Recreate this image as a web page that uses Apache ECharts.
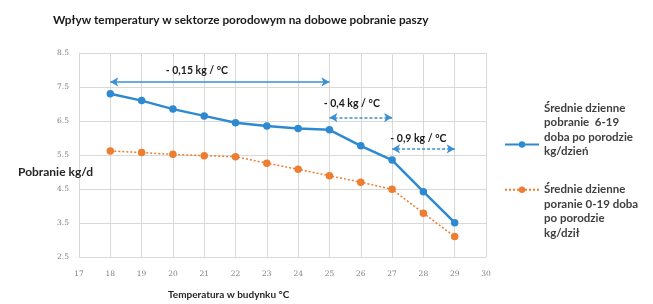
<!DOCTYPE html>
<html>
<head>
<meta charset="utf-8">
<script src="https://cdn.jsdelivr.net/npm/echarts@6/dist/echarts.min.js"></script>
<style>
  html, body { margin: 0; padding: 0; background: #fff; }
  #chart { width: 653px; height: 304px; }
</style>
</head>
<body>
<div id="chart"></div>
<script>
// temperatura (°C) i pobranie paszy (kg/d)
const temps = [18, 19, 20, 21, 22, 23, 24, 25, 26, 27, 28, 29];
const blueValues = [7.3, 7.1, 6.85, 6.65, 6.45, 6.35, 6.28, 6.24, 5.77, 5.35, 4.42, 3.51];
const orangeValues = [5.62, 5.57, 5.52, 5.48, 5.45, 5.26, 5.08, 4.89, 4.7, 4.49, 3.79, 3.1];
const seriesNames = [
    'Średnie dzienne\npobranie  6-19\ndoba po porodzie\nkg/dzień',
    'Średnie dzienne\nporanie 0-19 doba\npo porodzie\nkg/dził'
];
// strzałki z opisem spadku
const slopeLabels = ['- 0,15 kg / °C', '- 0,4 kg / °C', '- 0,9 kg / °C'];
const slopeRanges = [[18, 25], [25, 27], [27, 29]];
const slopeLevels = [7.65, 6.6, 5.68];

const FONT = 'Lato';
const chart = echarts.init(document.getElementById('chart'));

const pairs = (xs, ys) => xs.map((x, i) => [x, ys[i]]);

const labelOffsets = [[-23, -1], [-9, -3], [-5, 0]];
const arrowData = slopeRanges.map((r, i) => [
    {
        coord: [r[0], slopeLevels[i]],
        lineStyle: { type: i === 0 ? 'solid' : [3, 2] },
        label: { formatter: slopeLabels[i], offset: labelOffsets[i] }
    },
    { coord: [r[1], slopeLevels[i]] }
]);

const legendText = {
    fontFamily: FONT, fontSize: 11.5, fontWeight: 'bold', color: '#404040',
    lineHeight: 14.5
};

const option = {
    animation: false,
    title: [
        {
            text: 'Wpływ temperatury w sektorze porodowym na dobowe pobranie paszy',
            left: 48, top: 9,
            textStyle: { fontFamily: FONT, fontSize: 11.8, fontWeight: 'bold', color: '#1a1a1a' }
        },
        {
            text: 'Pobranie kg/d',
            left: 13, top: 161,
            textStyle: { fontFamily: FONT, fontSize: 12, fontWeight: 'bold', color: '#262626' }
        },
        {
            text: 'Temperatura w budynku °C',
            left: 163, top: 285,
            textStyle: { fontFamily: FONT, fontSize: 10, fontWeight: 'bold', color: '#262626' }
        }
    ],
    grid: { left: 79, right: 167, top: 53, bottom: 47 },
    xAxis: {
        type: 'value',
        min: 17, max: 30, interval: 1,
        axisLine: { show: true, lineStyle: { color: '#d9d9d9' } },
        axisTick: { show: false },
        axisLabel: { color: '#808080', fontFamily: 'DejaVu Serif', fontSize: 7.5, margin: 13 },
        splitLine: { show: true, lineStyle: { color: '#d9d9d9' } }
    },
    yAxis: {
        type: 'value',
        min: 2.5, max: 8.5, interval: 1,
        axisLine: { show: true, lineStyle: { color: '#d9d9d9' } },
        axisTick: { show: false },
        axisLabel: {
            color: '#808080', fontFamily: 'DejaVu Serif', fontSize: 7.5, margin: 10,
            formatter: v => v.toFixed(1)
        },
        splitLine: { show: true, lineStyle: { color: '#d9d9d9' } }
    },
    legend: [
        {
            data: [seriesNames[0]],
            left: 499, top: 96,
            itemWidth: 34, itemHeight: 8,
            formatter: name => name + '\n\n',
            textStyle: legendText
        },
        {
            data: [seriesNames[1]],
            left: 499, top: 134,
            itemWidth: 34, itemHeight: 8,
            formatter: name => '\n\n\n' + name,
            textStyle: legendText
        }
    ],
    series: [
        {
            name: seriesNames[0],
            type: 'line',
            data: pairs(temps, blueValues),
            symbol: 'circle', symbolSize: 7.5,
            itemStyle: { color: '#2e8ad0' },
            lineStyle: { color: '#2e8ad0', width: 2.5 },
            markLine: {
                silent: true,
                symbol: ['arrow', 'arrow'],
                symbolSize: [7, 8],
                lineStyle: { color: '#3b8fd4', width: 1.5 },
                label: {
                    position: 'middle',
                    distance: 5,
                    fontFamily: FONT, fontSize: 10.5, fontWeight: 'bold', color: '#1a1a1a'
                },
                data: arrowData
            }
        },
        {
            name: seriesNames[1],
            type: 'line',
            data: pairs(temps, orangeValues),
            symbol: 'circle', symbolSize: 7.5,
            itemStyle: { color: '#ed7d31' },
            lineStyle: { color: '#ed7d31', width: 1.5, type: [2, 2] }
        }
    ]
};

chart.setOption(option);
</script>
</body>
</html>
